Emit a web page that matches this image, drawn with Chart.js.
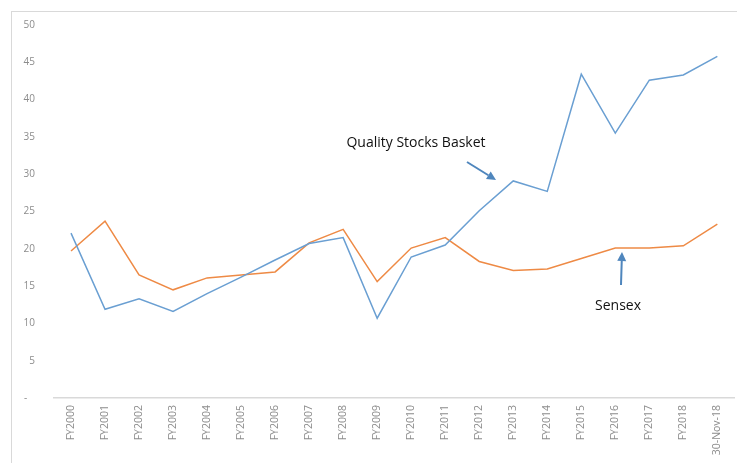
<!DOCTYPE html>
<html>
<head>
<meta charset="utf-8">
<script src="https://cdn.jsdelivr.net/npm/chart.js@4.4.1/dist/chart.umd.min.js"></script>
<style>
  html, body { margin: 0; padding: 0; background: #ffffff; }
  #wrap { position: relative; width: 737px; height: 463px; overflow: hidden; }
  #frame { position: absolute; left: 11px; top: 11px; width: 800px; height: 500px; border: 1px solid #d9d9d9; box-sizing: border-box; }
  #c { position: absolute; left: 0; top: 0; }
</style>
</head>
<body>
<div id="wrap">
  <div id="frame"></div>
  <canvas id="c" width="737" height="463"></canvas>
</div>
<script>
const categories = ["FY2000","FY2001","FY2002","FY2003","FY2004","FY2005","FY2006","FY2007","FY2008","FY2009","FY2010","FY2011","FY2012","FY2013","FY2014","FY2015","FY2016","FY2017","FY2018","30-Nov-18"];
const qualityStocks = [22.1, 11.9, 13.3, 11.6, 14.0, 16.2, 18.5, 20.7, 21.5, 10.7, 18.9, 20.5, 25.1, 29.1, 27.7, 43.4, 35.5, 42.6, 43.3, 45.8];
const sensex = [19.7, 23.7, 16.5, 14.5, 16.1, 16.5, 16.9, 20.8, 22.6, 15.6, 20.1, 21.5, 18.3, 17.1, 17.3, 18.7, 20.1, 20.1, 20.4, 23.3];
const yTicks = [0, 5, 10, 15, 20, 25, 30, 35, 40, 45, 50];

const annotations = [
  { text: "Quality Stocks Basket", x: 416, y: 143, from: [467, 162], to: [496, 180] },
  { text: "Sensex", x: 618, y: 306, from: [621, 285], to: [622, 252] }
];

const annotationPlugin = {
  id: 'annot',
  afterDatasetsDraw(chart) {
    const ctx = chart.ctx;
    ctx.save();
    annotations.forEach(a => {
      ctx.font = '14px "Open Sans", sans-serif';
      ctx.fillStyle = '#111111';
      ctx.textAlign = 'center';
      ctx.textBaseline = 'middle';
      ctx.fillText(a.text, a.x, a.y);
      const [x1, y1] = a.from, [x2, y2] = a.to;
      const ang = Math.atan2(y2 - y1, x2 - x1);
      const hl = 9, hw = 4.5;
      const bx = x2 - hl * Math.cos(ang), by = y2 - hl * Math.sin(ang);
      ctx.strokeStyle = '#4f86bd';
      ctx.fillStyle = '#4f86bd';
      ctx.lineWidth = 2;
      ctx.beginPath();
      ctx.moveTo(x1, y1);
      ctx.lineTo(bx, by);
      ctx.stroke();
      ctx.beginPath();
      ctx.moveTo(x2, y2);
      ctx.lineTo(bx + hw * Math.sin(ang), by - hw * Math.cos(ang));
      ctx.lineTo(bx - hw * Math.sin(ang), by + hw * Math.cos(ang));
      ctx.closePath();
      ctx.fill();
    });
    ctx.restore();
  }
};

new Chart(document.getElementById('c'), {
  type: 'line',
  data: {
    labels: categories,
    datasets: [
      { label: 'Quality Stocks Basket', data: qualityStocks, borderColor: '#6a9fd2', borderWidth: 1.5, pointRadius: 0, tension: 0, fill: false },
      { label: 'Sensex', data: sensex, borderColor: '#ee8a45', borderWidth: 1.5, pointRadius: 0, tension: 0, fill: false }
    ]
  },
  options: {
    responsive: false,
    animation: false,
    devicePixelRatio: 1,
    layout: { padding: { left: 0, right: 2, top: 22, bottom: 0 } },
    plugins: { legend: { display: false }, tooltip: { enabled: false } },
    scales: {
      x: {
        offset: true,
        grid: { display: false, drawTicks: false },
        border: { display: true, color: '#d9d9d9', width: 1.5 },
        ticks: { minRotation: 90, maxRotation: 90, autoSkip: false, padding: 7, color: '#8c8c8c', font: { family: '"Open Sans", sans-serif', size: 10.5 } },
        afterFit(scale) { scale.height = 65; }
      },
      y: {
        min: 0, max: 50,
        afterBuildTicks(scale) { scale.ticks = yTicks.map(v => ({ value: v })); },
        grid: { display: false, drawTicks: false },
        border: { display: false },
        ticks: { padding: 19, color: '#8c8c8c', font: { family: '"Open Sans", sans-serif', size: 10 },
                 callback: v => v === 0 ? '-   ' : String(v) },
        afterFit(scale) { scale.width = 54; }
      }
    }
  },
  plugins: [annotationPlugin]
});
</script>
</body>
</html>
